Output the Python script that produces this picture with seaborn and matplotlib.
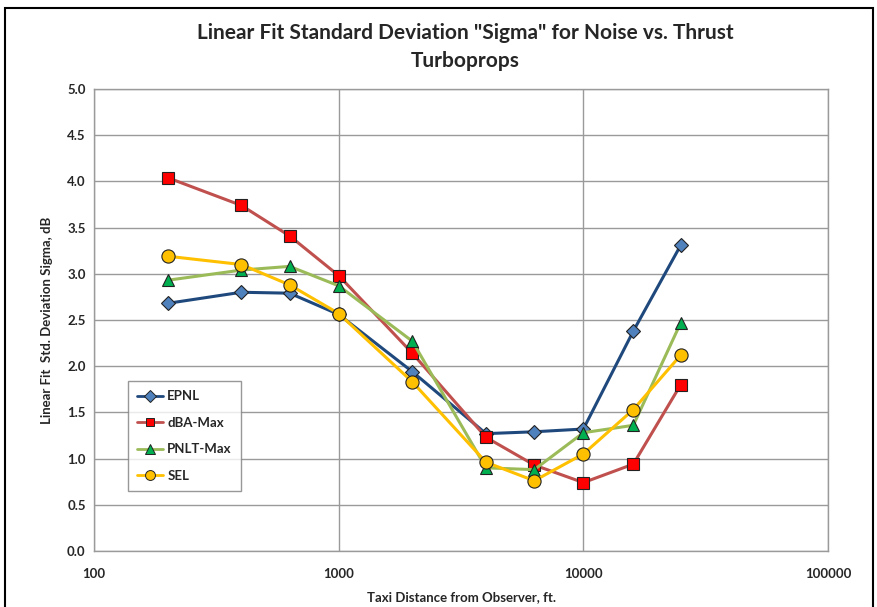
import matplotlib
matplotlib.use("Agg")
import matplotlib.pyplot as plt
import seaborn as sns
import pandas as pd
from matplotlib.patches import Rectangle
from matplotlib.lines import Line2D

distance = [200, 400, 630, 1000, 2000, 4000, 6300, 10000, 16000, 25000]
epnl = [2.68, 2.80, 2.79, 2.56, 1.94, 1.27, 1.29, 1.32, 2.38, 3.31]
dba_max = [4.04, 3.74, 3.41, 2.98, 2.14, 1.23, 0.93, 0.74, 0.94, 1.80]
pnlt_max = [2.93, 3.04, 3.08, 2.87, 2.27, 0.90, 0.88, 1.28, 1.36, 2.47]
sel = [3.19, 3.10, 2.88, 2.57, 1.83, 0.96, 0.76, 1.05, 1.53, 2.12]

series_names = ["EPNL", "dBA-Max", "PNLT-Max", "SEL"]
series_values = [epnl, dba_max, pnlt_max, sel]
y_ticks = [0.0, 0.5, 1.0, 1.5, 2.0, 2.5, 3.0, 3.5, 4.0, 4.5, 5.0]
x_ticks = [100, 1000, 10000, 100000]

styles = {
    "EPNL": dict(line="#1F497D", face="#4F81BD", marker="D", ms=7.5),
    "dBA-Max": dict(line="#C0504D", face="#FF0000", marker="s", ms=8),
    "PNLT-Max": dict(line="#9BBB59", face="#00B050", marker="^", ms=9),
    "SEL": dict(line="#FFC000", face="#FFC000", marker="o", ms=9.5),
}

sns.set_theme(style="white")
plt.rcParams["font.family"] = ["Lato", "DejaVu Sans"]

fig = plt.figure(figsize=(8.77, 6.07), dpi=100)
ax = fig.add_axes([0.1072, 0.0923, 0.8370, 0.7611])

rows = []
for name, vals in zip(series_names, series_values):
    for d, v in zip(distance, vals):
        rows.append({"Distance": d, "Sigma": v, "Series": name})
df = pd.DataFrame(rows)

handles = []
for name in series_names:
    st = styles[name]
    sub = df[df["Series"] == name]
    sns.lineplot(data=sub, x="Distance", y="Sigma", ax=ax, color=st["line"],
                 linewidth=2.2, marker=st["marker"], markersize=st["ms"],
                 markerfacecolor=st["face"], markeredgecolor="#222222",
                 markeredgewidth=0.8, legend=False, zorder=3)
    handles.append(Line2D([0], [0], color=st["line"], linewidth=2,
                          marker=st["marker"], markersize=st["ms"] * 0.75,
                          markerfacecolor=st["face"], markeredgecolor="#222222",
                          markeredgewidth=0.7, label=name))

ax.set_xscale("log")
ax.set_xlim(100, 100000)
ax.set_ylim(0, 5.0)
ax.set_xticks(x_ticks)
ax.set_xticklabels([str(t) for t in x_ticks])
ax.minorticks_off()
ax.set_yticks(y_ticks)
ax.set_yticklabels([f"{t:.1f}" for t in y_ticks])
ax.tick_params(axis="both", labelsize=9.5, length=0, pad=6)
for lab in ax.get_xticklabels() + ax.get_yticklabels():
    lab.set_fontweight("bold")
ax.tick_params(axis="x", pad=12)

ax.grid(True, which="major", color="#9A9A9A", linewidth=1.0)
ax.set_axisbelow(True)
for sp in ax.spines.values():
    sp.set_color("#9A9A9A")
    sp.set_linewidth(1.0)

ax.set_xlabel("Taxi Distance from Observer, ft.", fontsize=9.5, fontweight="bold", labelpad=8)
ax.set_ylabel("Linear Fit  Std. Deviation Sigma, dB", fontsize=9.5, fontweight="bold", labelpad=10)

fig.text(0.531, 0.946, 'Linear Fit Standard Deviation "Sigma" for Noise vs. Thrust',
         ha="center", va="center", fontsize=15, fontweight="bold")
fig.text(0.531, 0.899, "Turboprops", ha="center", va="center", fontsize=15, fontweight="bold")

leg = ax.legend(handles=handles, loc="upper left", bbox_to_anchor=(0.046, 0.368),
                fontsize=9.5, frameon=True, fancybox=False, handlelength=2.0,
                borderpad=0.7, labelspacing=1.1, handletextpad=0.3, borderaxespad=0)
leg.get_frame().set_edgecolor("#7F7F7F")
leg.get_frame().set_linewidth(1.0)
for t in leg.get_texts():
    t.set_fontweight("bold")

fig.patches.append(Rectangle((5 / 877, -0.05), 868 / 877, 1 - 8 / 607 + 0.05,
                             transform=fig.transFigure, fill=False,
                             edgecolor="black", linewidth=1.5))

fig.savefig("out.png", dpi=100)
